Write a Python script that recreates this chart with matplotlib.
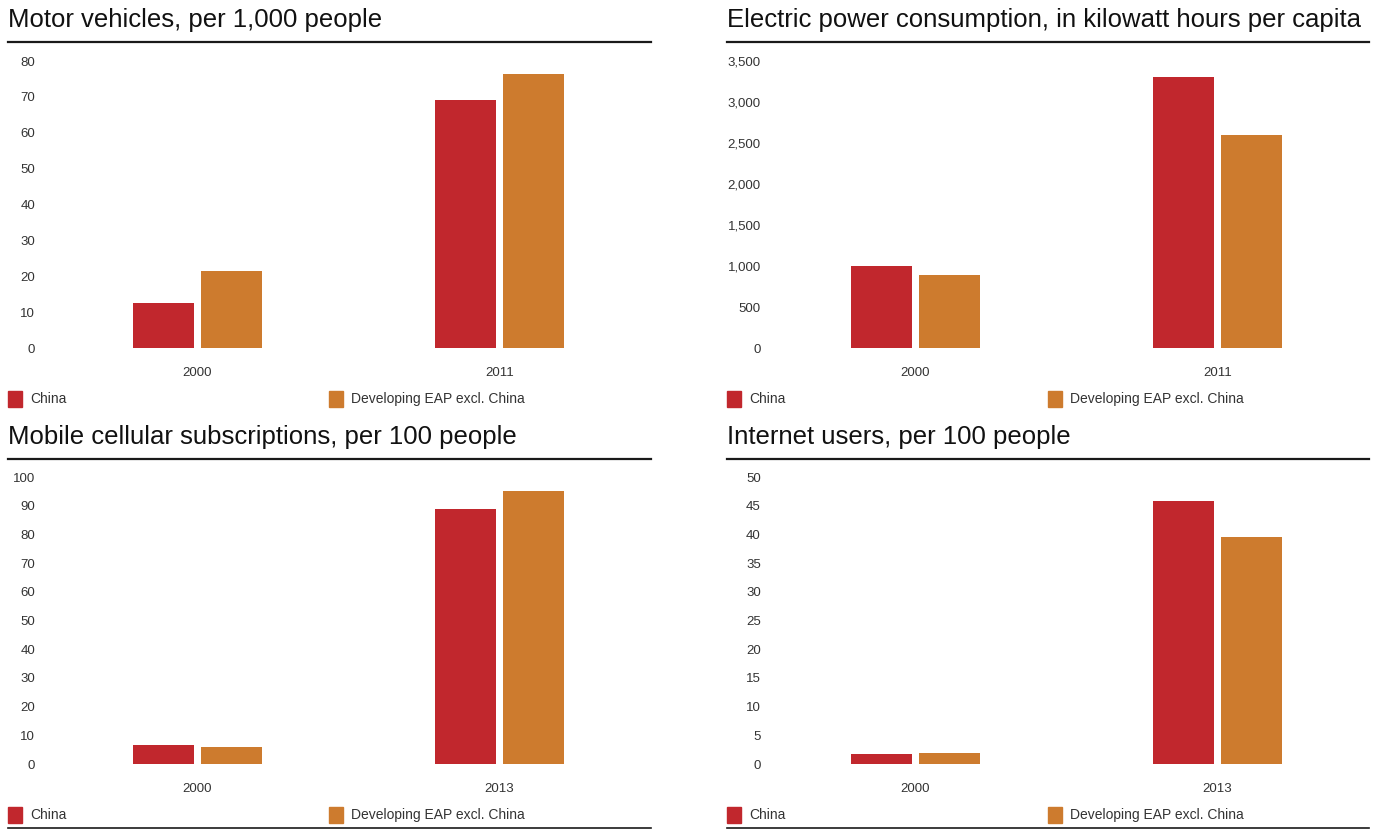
import matplotlib
matplotlib.use("Agg")
import matplotlib.pyplot as plt
from matplotlib.patches import Rectangle
from matplotlib.lines import Line2D

W, H = 1377, 830
TITLE_FONT = ["Liberation Sans", "DejaVu Sans"]
BODY_FONT = ["Liberation Sans", "DejaVu Sans"]
RED = "#C1272D"
ORANGE = "#CD7B2E"

series = ["China", "Developing EAP excl. China"]

titles = [
    "Motor vehicles, per 1,000 people",
    "Electric power consumption, in kilowatt hours per capita",
    "Mobile cellular subscriptions, per 100 people",
    "Internet users, per 100 people",
]
years = [["2000", "2011"], ["2000", "2011"], ["2000", "2013"], ["2000", "2013"]]
china = [[12.5, 69.0], [996, 3301], [6.5, 88.7], [1.7, 45.8]]
eap = [[21.4, 76.3], [886, 2594], [5.8, 95.0], [1.9, 39.5]]
yticks = [
    list(range(0, 81, 10)),
    list(range(0, 3501, 500)),
    list(range(0, 101, 10)),
    list(range(0, 51, 5)),
]


def fx(x):
    return x / W


def fy(y):
    return 1 - y / H


fig = plt.figure(figsize=(W / 100, H / 100), dpi=100)

# panel geometry in pixels: (rule_left, rule_right, axes_left, title_y, rule_y, zero_y, top_y, label_pad)
panels = [
    (8, 651, 45, 20, 42, 348, 61, 7),
    (727, 1369, 763, 20, 42, 348, 61, 1.5),
    (8, 651, 45, 437, 459, 764, 477, 7),
    (727, 1369, 763, 437, 459, 764, 477, 1.5),
]

for i, (rl, rr, al, ty, ry, zy, topy, pad) in enumerate(panels):
    ax = fig.add_axes([fx(al), fy(zy), fx(rr - al), (zy - topy) / H])
    x = [0, 1]
    ax.bar([v - 0.1126 for v in x], china[i], width=0.202, color=RED, label=series[0])
    ax.bar([v + 0.1126 for v in x], eap[i], width=0.202, color=ORANGE, label=series[1])
    ax.set_xlim(-0.505, 1.502)
    ax.set_ylim(0, yticks[i][-1])
    ax.set_yticks(yticks[i])
    ax.set_yticklabels([f"{t:,}" for t in yticks[i]], family=BODY_FONT, fontsize=9.5, color="#333333")
    ax.set_xticks(x)
    ax.set_xticklabels(years[i], family=BODY_FONT, fontsize=9.5, color="#333333")
    ax.tick_params(axis="y", length=0, pad=pad)
    ax.tick_params(axis="x", length=0, pad=14)
    for s in ax.spines.values():
        s.set_visible(False)

    # title and rule
    fig.text(fx(rl), fy(ty), titles[i], family=TITLE_FONT, fontsize=18.5, color="#111111",
             ha="left", va="center")
    fig.add_artist(Line2D([fx(rl), fx(rr)], [fy(ry), fy(ry)], color="#1a1a1a", lw=1.6))

    # legend row
    ly = zy + 51
    for j, (name, col) in enumerate(zip(series, [RED, ORANGE])):
        lx = rl + j * 321
        fig.add_artist(Rectangle((fx(lx), fy(ly + 8)), fx(14), 16 / H, color=col,
                                 transform=fig.transFigure))
        fig.text(fx(lx + 22), fy(ly), name, family=BODY_FONT, fontsize=10,
                 color="#333333", ha="left", va="center")
    if i >= 2:
        fig.add_artist(Line2D([fx(rl), fx(rr)], [fy(ly + 13), fy(ly + 13)], color="#1a1a1a", lw=1.2))

fig.savefig("out.png", dpi=100)
